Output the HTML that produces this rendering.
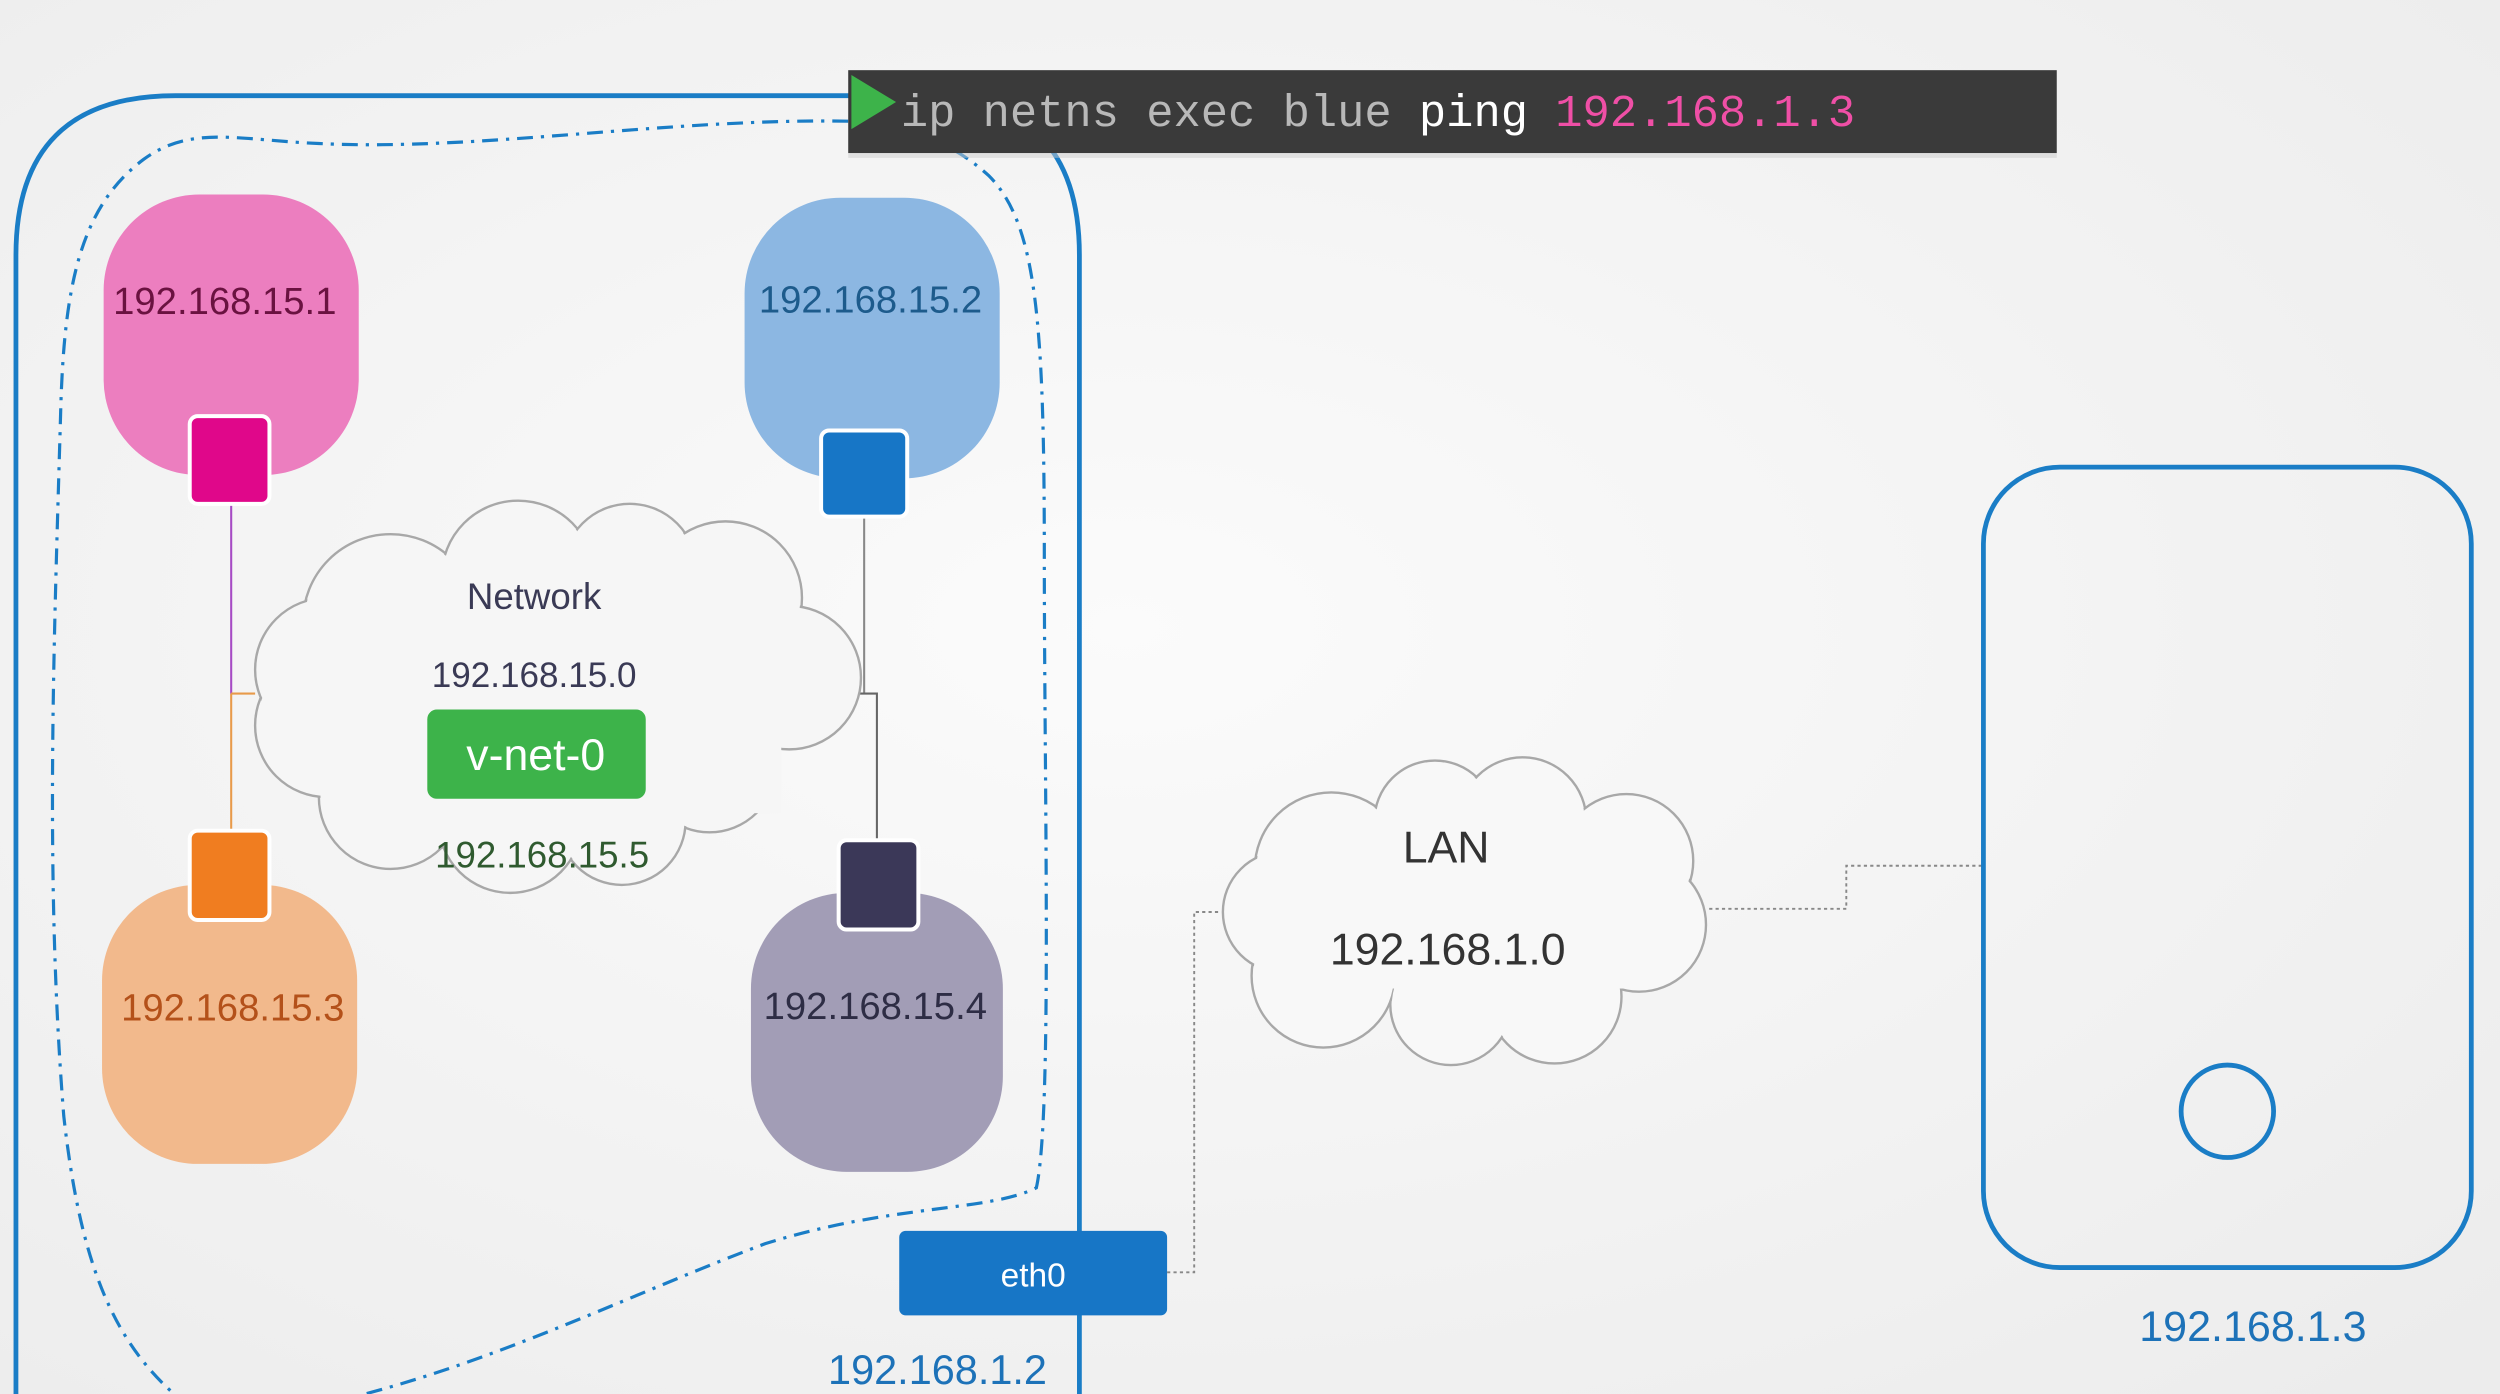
<!DOCTYPE html>
<html><head><meta charset="utf-8"><style>
html,body{margin:0;padding:0;width:2500px;height:1394px;overflow:hidden;background:#f2f2f2}
svg{display:block}
text{font-family:"Liberation Sans",sans-serif}
text.mono{font-family:"Liberation Mono",monospace}
</style></head><body>
<svg width="2500" height="1394" viewBox="0 0 1568 874.3" xmlns="http://www.w3.org/2000/svg">
<defs>
<radialGradient id="bg" cx="0.45" cy="0.45" r="0.75">
<stop offset="0" stop-color="#fbfbfb"/><stop offset="1" stop-color="#ececec"/>
</radialGradient>
</defs>
<rect width="1568" height="874.3" fill="url(#bg)"/>

<path d="M10,900 L10,160 Q10,60 110,60 L577,60 Q677,60 677,160 L677,900" fill="none" stroke="#1a7dc6" stroke-width="3"/>

<path d="M532,76 C420,74 300,95 200,90 C150,88 120,78 90,100 C50,130 40,180 38,260 C34,400 28,550 40,700 C50,790 70,840 110,875 M230,874 C320,850 400,810 480,780 C560,755 620,760 650,745 C660,700 655,500 655,350 C655,200 650,140 620,110 C600,92 580,84 560,80" fill="none" stroke="#1a7dc6" stroke-width="2" stroke-dasharray="10 5 2 5"/>

<line x1="145" y1="315" x2="145" y2="435" stroke="#a64bc4" stroke-width="1.3"/>
<line x1="145" y1="435" x2="145" y2="522" stroke="#e89a4a" stroke-width="1.3"/>
<line x1="145" y1="435" x2="160" y2="435" stroke="#e89a4a" stroke-width="1.3"/>
<line x1="542" y1="323" x2="542" y2="435" stroke="#888" stroke-width="1.3"/>
<polyline points="537,435 550,435 550,528" fill="none" stroke="#666" stroke-width="1.3"/>

<g stroke="#a8a8a8" stroke-width="1.5" fill="#f6f6f6">
<circle cx="245" cy="390" r="55"/><circle cx="325" cy="362" r="48"/><circle cx="395" cy="358" r="42"/>
<circle cx="455" cy="375" r="48"/><circle cx="495" cy="425" r="45"/><circle cx="445" cy="480" r="42"/>
<circle cx="390" cy="515" r="40"/><circle cx="320" cy="515" r="45"/><circle cx="245" cy="500" r="45"/>
<circle cx="205" cy="455" r="45"/><circle cx="205" cy="420" r="45"/>
</g>
<g fill="#f6f6f6">
<circle cx="245" cy="390" r="54"/><circle cx="325" cy="362" r="47"/><circle cx="395" cy="358" r="41"/>
<circle cx="455" cy="375" r="47"/><circle cx="495" cy="425" r="44"/><circle cx="445" cy="480" r="41"/>
<circle cx="390" cy="515" r="39"/><circle cx="320" cy="515" r="44"/><circle cx="245" cy="500" r="44"/>
<circle cx="205" cy="455" r="44"/><circle cx="205" cy="420" r="44"/>
<rect x="220" y="380" width="270" height="130"/>
</g>
<text x="335" y="382" font-size="23" fill="#3a3a55" text-anchor="middle">Network</text>
<text x="335" y="431" font-size="22" fill="#3a3a55" text-anchor="middle">192.168.15.0</text>
<rect x="268" y="445" width="137" height="56" rx="6" fill="#3db34a"/>
<text x="336" y="483" font-size="28" fill="#fff" text-anchor="middle">v-net-0</text>
<text x="340" y="544" font-size="23" fill="#2f5a2f" text-anchor="middle">192.168.15.5</text>

<rect x="65" y="122" width="160" height="176" rx="60" fill="#ec7ebf"/>
<text x="141" y="197" font-size="24" fill="#6a1240" text-anchor="middle">192.168.15.1</text>
<rect x="119" y="261" width="50" height="55" rx="5" fill="#e0078a" stroke="#fff" stroke-width="2.5"/>

<rect x="467" y="124" width="160" height="176" rx="60" fill="#8cb7e2"/>
<text x="546" y="196" font-size="24" fill="#1d5b8c" text-anchor="middle">192.168.15.2</text>
<rect x="515" y="270" width="54" height="54" rx="5" fill="#1776c6" stroke="#fff" stroke-width="2.5"/>

<rect x="64" y="555" width="160" height="175" rx="60" fill="#f2b98c"/>
<text x="146" y="640" font-size="24" fill="#b4511a" text-anchor="middle">192.168.15.3</text>
<rect x="119" y="521" width="50" height="56" rx="5" fill="#f07d20" stroke="#fff" stroke-width="2.5"/>

<rect x="471" y="560" width="158" height="175" rx="60" fill="#a29db6"/>
<text x="549" y="639" font-size="24" fill="#2e2d45" text-anchor="middle">192.168.15.4</text>
<rect x="526" y="527" width="50" height="56" rx="5" fill="#3b3858" stroke="#fff" stroke-width="2.5"/>

<rect x="564" y="772" width="168" height="53" rx="4" fill="#1776c6"/>
<text x="648" y="807" font-size="21" fill="#fff" text-anchor="middle">eth0</text>
<text x="588" y="868" font-size="26" fill="#1d72b8" text-anchor="middle">192.168.1.2</text>

<polyline points="732,798 749,798 749,572 766,572" fill="none" stroke="#888" stroke-width="1.2" stroke-dasharray="2 2"/>
<polyline points="1072,570 1158,570 1158,543 1244,543" fill="none" stroke="#888" stroke-width="1.2" stroke-dasharray="2 2"/>

<g stroke="#a8a8a8" stroke-width="1.5" fill="#f8f8f8">
<circle cx="835" cy="545" r="48"/><circle cx="900" cy="515" r="38"/><circle cx="955" cy="515" r="40"/>
<circle cx="1020" cy="540" r="42"/><circle cx="1028" cy="580" r="42"/><circle cx="975" cy="625" r="42"/>
<circle cx="910" cy="630" r="38"/><circle cx="830" cy="612" r="45"/><circle cx="805" cy="572" r="38"/>
</g>
<g fill="#f8f8f8">
<circle cx="835" cy="545" r="47"/><circle cx="900" cy="515" r="37"/><circle cx="955" cy="515" r="39"/>
<circle cx="1020" cy="540" r="41"/><circle cx="1028" cy="580" r="41"/><circle cx="975" cy="625" r="41"/>
<circle cx="910" cy="630" r="37"/><circle cx="830" cy="612" r="44"/><circle cx="805" cy="572" r="37"/>
<rect x="820" y="530" width="200" height="90"/>
</g>
<text x="907" y="541" font-size="28" fill="#333" text-anchor="middle">LAN</text>
<text x="908" y="605" font-size="28" fill="#333" text-anchor="middle">192.168.1.0</text>

<rect x="1244" y="293" width="306" height="502" rx="48" fill="none" stroke="#1a7dc6" stroke-width="3"/>
<circle cx="1397" cy="697" r="29" fill="none" stroke="#1a7dc6" stroke-width="3"/>
<text x="1413" y="841" font-size="27" fill="#1d72b8" text-anchor="middle">192.168.1.3</text>

<rect x="532" y="44" width="758" height="52" fill="#3a3a3a"/>
<rect x="532" y="96" width="758" height="3" fill="#ccc" opacity="0.5"/>
<polygon points="534,47 534,81 562,64" fill="#3db34a"/>
<text class="mono" x="565" y="79" font-size="28.5" fill="#b8b8b8" xml:space="preserve">ip netns exec blue <tspan fill="#fff">ping</tspan> <tspan fill="#ef4fa6">192.168.1.3</tspan></text>
</svg>
</body></html>
